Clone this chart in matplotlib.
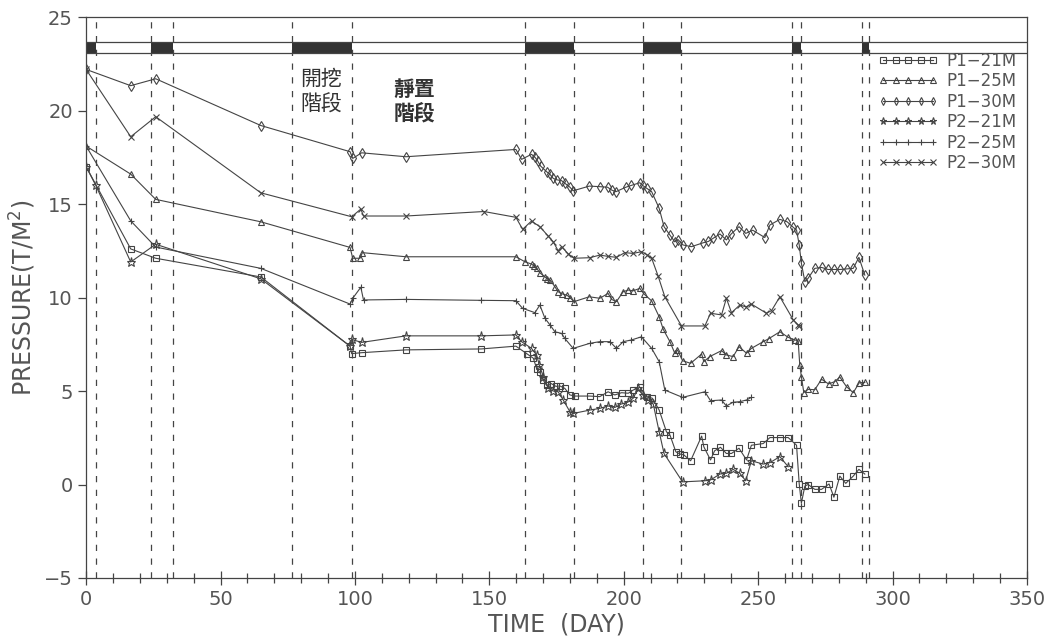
import matplotlib
matplotlib.use('Agg')
import matplotlib.pyplot as plt
from matplotlib.ticker import MultipleLocator

# (day, pressure) pairs
p1_21 = [(0, 17.0), (16.6, 12.6), (25.9, 12.1), (65, 11.1), (98.2, 7.4), (98.8, 7.0), (102.5, 7.05),
         (119, 7.2), (147, 7.25), (159.9, 7.4), (163.9, 7.0), (166.4, 6.75), (167.6, 6.2), (168.8, 6.0),
         (170, 5.6), (171.3, 5.3), (173, 5.4), (174.8, 5.25), (176.3, 5.27), (178.1, 5.14), (180, 4.79),
         (181.9, 4.73), (187.4, 4.73), (191.1, 4.7), (194.2, 4.96), (196.7, 4.79), (199.2, 4.91),
         (201.7, 4.88), (203.5, 5.05), (206, 5.2), (208.5, 4.7), (210.7, 4.61), (213.2, 3.98),
         (215.9, 2.82), (217.2, 2.65), (219.4, 1.75), (220.9, 1.63), (222.4, 1.58), (224.9, 1.27),
         (229, 2.59), (229.8, 2.02), (232.3, 1.31), (233.8, 1.8), (236, 1.99), (238.2, 1.66),
         (240.1, 1.66), (242.9, 1.94), (245.7, 1.31), (247.5, 2.1), (251.9, 2.19), (254.4, 2.51),
         (258, 2.51), (261.2, 2.51), (264.3, 2.1), (265.3, 0.03), (266.1, -1.0), (267.4, -0.08),
         (268.6, 0.0), (271.1, -0.26), (273.6, -0.26), (276.4, 0.03), (278.2, -0.68), (280.4, 0.45),
         (282.6, 0.06), (285.4, 0.45), (287.5, 0.81), (289.7, 0.56)]

p1_25 = [(0, 18.1), (16.6, 16.6), (25.9, 15.25), (65, 14.05), (98.2, 12.68), (99.2, 12.1), (101.9, 12.1),
         (102.8, 12.4), (119, 12.18), (159.9, 12.18), (163.3, 11.91), (165.7, 11.79), (166.5, 11.7),
         (167.6, 11.56), (169, 11.3), (170.7, 11.11), (171.5, 11.0), (172.6, 10.94), (174.4, 10.58),
         (175.6, 10.31), (177, 10.2), (178.8, 10.13), (180, 10.0), (181.5, 9.78), (187.2, 10.04),
         (191.1, 9.96), (194.2, 10.22), (195.5, 9.9), (197.3, 9.78), (199.8, 10.31), (201.7, 10.4),
         (203.5, 10.36), (206, 10.49), (207.5, 10.2), (210.4, 9.82), (213.2, 8.97), (214.7, 8.3),
         (217.2, 7.64), (219, 7.02), (220, 7.2), (221.9, 6.62), (224.9, 6.48), (229, 6.98), (229.8, 6.57),
         (232, 6.84), (236.4, 7.16), (238.2, 6.93), (240.7, 6.84), (242.9, 7.37), (245.7, 7.02),
         (247.5, 7.28), (251.9, 7.64), (254, 7.8), (258.1, 8.17), (261.2, 7.87), (263.7, 7.73),
         (264.9, 7.69), (265.5, 6.39), (266.1, 5.77), (267, 4.92), (268.6, 5.09), (271.1, 5.07),
         (273.6, 5.63), (276.2, 5.38), (278.5, 5.5), (280.4, 5.75), (282.9, 5.23), (285.4, 4.91),
         (287.6, 5.44), (289.7, 5.46)]

p1_30 = [(0, 22.2), (16.6, 21.33), (25.9, 21.7), (65, 19.2), (98.2, 17.8), (99.2, 17.44), (102.5, 17.74),
         (119, 17.53), (159.9, 17.92), (162, 17.39), (165.7, 17.66), (167, 17.5), (168, 17.3),
         (169.1, 17.03), (171.3, 16.73), (172.5, 16.6), (173.8, 16.37), (175, 16.3), (176.9, 16.25),
         (178.2, 16.1), (180, 15.9), (181.2, 15.71), (187.2, 15.96), (191.1, 15.93), (194, 15.9),
         (195.5, 15.75), (197.1, 15.66), (200.8, 15.9), (202.9, 16.0), (206, 16.14), (207, 16.0),
         (208.5, 15.85), (210.4, 15.66), (213.2, 14.77), (215, 13.79), (217.2, 13.34), (219, 12.98),
         (220.2, 13.1), (222.1, 12.81), (225.2, 12.72), (229.6, 12.93), (231.5, 13.0), (233.3, 13.17),
         (235.8, 13.4), (238.2, 13.08), (240, 13.4), (242.9, 13.79), (245.4, 13.43), (248, 13.6),
         (252.5, 13.21), (254.4, 13.88), (258.1, 14.18), (260.8, 14.05), (262.8, 13.79), (264.3, 13.61),
         (265.3, 12.81), (266.1, 11.83), (267.4, 10.85), (268.6, 11.03), (271.1, 11.56), (273.6, 11.61),
         (276, 11.5), (278.3, 11.5), (280.5, 11.5), (282.9, 11.53), (285.4, 11.56), (287.5, 12.15),
         (289.7, 11.2)]

p2_21 = [(0, 17.0), (3.6, 16.0), (16.6, 11.9), (25.9, 12.85), (65, 11.0), (98.2, 7.4), (98.8, 7.76),
         (102.5, 7.6), (119, 7.95), (147, 7.95), (159.9, 8.0), (162, 7.64), (165.7, 7.28), (167.6, 6.93),
         (168.6, 6.39), (170.1, 5.77), (171.9, 5.14), (173.8, 5.0), (175.6, 4.96), (177.5, 4.52),
         (180, 3.89), (181.2, 3.8), (187.4, 3.98), (191.1, 4.07), (194.2, 4.2), (196.7, 4.12), (199, 4.3),
         (201.5, 4.4), (203.5, 4.61), (205.4, 5.14), (207, 4.8), (209.1, 4.52), (211, 4.3), (213.2, 2.82),
         (215, 1.66), (221.9, 0.14), (230.2, 0.2), (232.3, 0.24), (235.8, 0.56), (238.2, 0.6),
         (240.7, 0.81), (243.2, 0.6), (245.4, 0.2), (247.5, 1.27), (251.9, 1.09), (254.4, 1.17),
         (258.1, 1.49), (261.2, 0.95)]

p2_25 = [(0, 18.1), (16.6, 14.1), (25.9, 12.7), (65, 11.56), (98.2, 9.65), (99.2, 9.96), (102.2, 10.55),
         (103.2, 9.87), (119, 9.9), (147, 9.85), (159.9, 9.83), (162.4, 9.42), (167, 9.19), (168.8, 9.6),
         (170.7, 8.89), (172.6, 8.53), (174.4, 8.17), (176.9, 8.08), (178.1, 7.81), (181.2, 7.28),
         (187.4, 7.55), (191.1, 7.64), (194.9, 7.64), (197.3, 7.28), (199.8, 7.64), (202.9, 7.73),
         (206.6, 7.9), (210.4, 7.28), (213.2, 6.57), (215.3, 5.05), (221.9, 4.66), (230.2, 4.96),
         (232.3, 4.48), (236.4, 4.52), (238.2, 4.2), (240.7, 4.4), (243.2, 4.43), (245.7, 4.52),
         (247.5, 4.66)]

p2_30 = [(0, 22.2), (16.6, 18.6), (25.9, 19.67), (65, 15.6), (98.8, 14.32), (102.2, 14.73), (103.2, 14.36),
         (119, 14.36), (148, 14.6), (159.9, 14.29), (162.4, 13.65), (165.7, 14.09), (168.8, 13.79),
         (171.9, 13.29), (173.8, 12.98), (175.6, 12.5), (176.9, 12.72), (179.4, 12.33), (181.5, 12.1),
         (187.4, 12.13), (191.1, 12.27), (194.2, 12.2), (197.3, 12.15), (200.4, 12.4), (203.5, 12.36),
         (206.6, 12.45), (208.5, 12.3), (210.4, 12.1), (212.8, 11.15), (215.3, 10.04), (221.5, 8.48),
         (230.2, 8.48), (232.3, 9.16), (236.4, 9.07), (238.2, 9.96), (240.1, 9.19), (243.2, 9.6),
         (245.5, 9.5), (247.5, 9.65), (253.1, 9.16), (255, 9.3), (258.1, 10.04), (263.1, 8.8),
         (264.9, 8.53), (265.4, 8.48)]

labels = ['P1\u221221M', 'P1\u221225M', 'P1\u221230M', 'P2\u221221M', 'P2\u221225M', 'P2\u221230M']
markers = ['s', '^', 'd', '*', '+', 'x']

# excavation periods (black blocks in the top strip) and the dashed stage lines
stages = [(0, 3.6), (24, 32.2), (76.5, 98.8), (163.2, 181.5), (207, 221.5), (262.7, 265.9), (288.8, 291.2)]
vlines = [3.6, 24, 32.2, 76.5, 98.8, 163.2, 181.5, 207, 221.5, 262.7, 265.9, 288.8, 291.2]

plt.rcParams['font.family'] = ['DejaVu Sans']
grey = '#555555'
line = '#444444'

fig = plt.figure(figsize=(10.5, 6.44), dpi=100)
ax = fig.add_axes([0.082, 0.1025, 0.896, 0.871])

for v in vlines:
    ax.axvline(v, color=line, lw=0.9, ls=(0, (5, 6)), zorder=1)

band_lo, band_hi = 23.07, 23.66
ax.axhline(band_lo, color=line, lw=0.9)
ax.axhline(band_hi, color=line, lw=0.9)
for a, b in stages:
    ax.fill_between([a, b], band_lo, band_hi, color='#333333', lw=0)

series = [p1_21, p1_25, p1_30, p2_21, p2_25, p2_30]
for data, lab, m in zip(series, labels, markers):
    xs = [d[0] for d in data]
    ys = [d[1] for d in data]
    ms = 6.5 if m == '*' else 5
    ax.plot(xs, ys, color=line, lw=0.8, marker=m, ms=ms, mfc='none' if m not in '+x' else line,
            mec=line, mew=0.8, label=lab, zorder=3)

ax.set_xlim(0, 350)
ax.set_ylim(-5, 25)
ax.xaxis.set_major_locator(MultipleLocator(50))
ax.xaxis.set_minor_locator(MultipleLocator(10))
ax.yaxis.set_major_locator(MultipleLocator(5))
ax.tick_params(axis='x', which='major', direction='inout', length=10, width=0.9, colors=line,
               labelsize=14, labelcolor=grey, pad=4)
ax.tick_params(axis='x', which='minor', direction='inout', length=7, width=0.9, colors=line)
ax.tick_params(axis='y', which='major', direction='out', length=6, width=0.9, colors=line,
               labelsize=14, labelcolor=grey)
for s in ax.spines.values():
    s.set_color(line)
    s.set_linewidth(0.9)

ax.set_xlabel('TIME  (DAY)', fontsize=17, color=grey, labelpad=2)
ax.set_ylabel('PRESSURE(T/M$^2$)', fontsize=17, color=grey, labelpad=4)

cjk = ['Noto Sans CJK TC', 'DejaVu Sans']
ax.text(87.5, 21.0, '開挖\n階段', family=cjk, fontsize=15, color='#333333', ha='center', va='center',
        linespacing=1.2)
ax.text(122, 20.5, '靜置\n階段', family=cjk, fontsize=15, color='#333333', ha='center', va='center',
        weight='bold', linespacing=1.2)

leg = ax.legend(loc='upper right', bbox_to_anchor=(1.005, 0.965), frameon=False, numpoints=5,
                handlelength=3.6, fontsize=12, labelspacing=0.15, handletextpad=0.5, markerscale=0.8)
for t in leg.get_texts():
    t.set_color(grey)

fig.savefig('out.png', dpi=100)
